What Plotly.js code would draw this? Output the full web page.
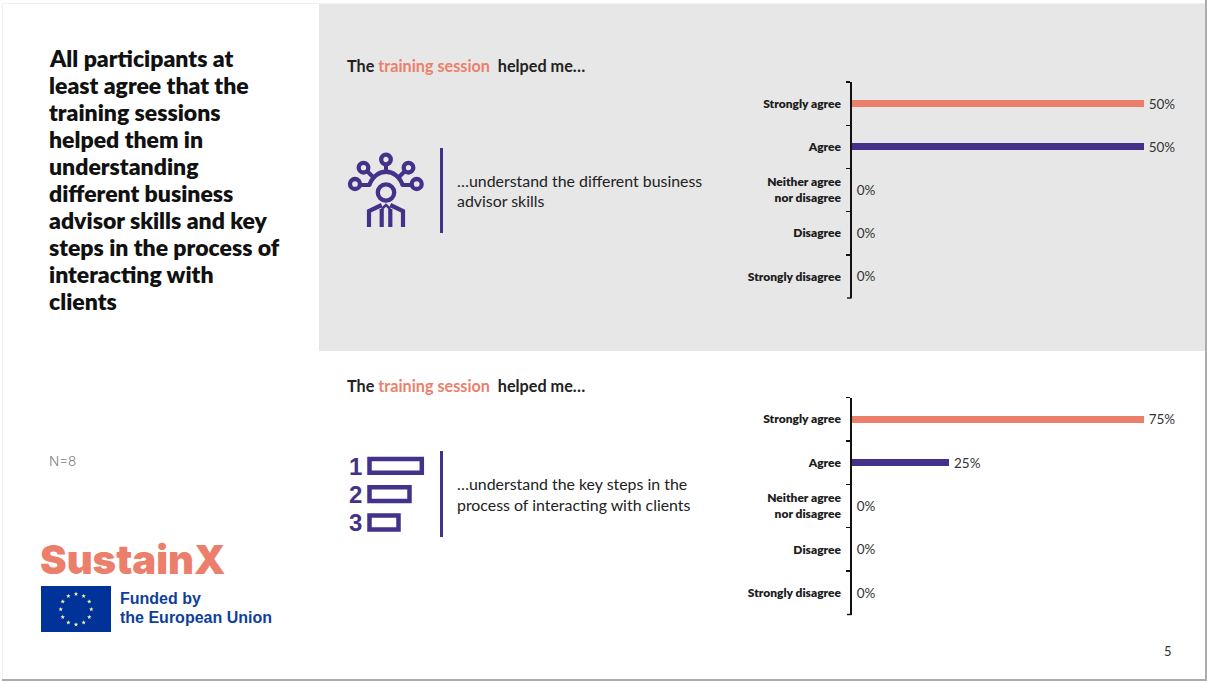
<!DOCTYPE html>
<html>
<head>
<meta charset="utf-8">
<script src="https://cdn.plot.ly/plotly-3.0.1.min.js"></script>
<style>html,body{margin:0;padding:0;background:#fff}#chart{width:1207px;height:681px}</style>
</head>
<body>
<div id="chart"></div>
<script>
// Survey answers
const categories = ['Strongly agree', 'Agree', 'Neither agree<br>nor disagree', 'Disagree', 'Strongly disagree'];
const skillsValues = [50, 50, 0, 0, 0];
const stepsValues = [75, 25, 0, 0, 0];

// Wording
const headlineLines = ['All participants at', 'least agree that the', 'training sessions', 'helped them in', 'understanding', 'different business', 'advisor skills and key', 'steps in the process of', 'interacting with', 'clients'];
const skillsCaption = ['…understand the different business', 'advisor skills'];
const stepsCaption = ['…understand the key steps in the', 'process of interacting with clients'];
const lead = 'The <span style="color:#EC7F6B">training session</span>  helped me…';

const CORAL = '#EC7F6B', PURPLE = '#44318A', INK = '#1d1d1d', FONT = 'Lato, sans-serif';
const W = 1207, H = 681;
const barColors = [CORAL, PURPLE, PURPLE, PURPLE, PURPLE];

const px = (a, b, size) => [a / size, b / size];
const yDomain = (top, bottom) => [1 - bottom / H, 1 - top / H];

function barTrace(values, xa, ya) {
  return {
    type: 'bar', orientation: 'h', x: values, y: categories, xaxis: xa, yaxis: ya,
    width: 0.17,
    marker: { color: barColors, line: { width: 0 } },
    // A thin space keeps the figures clear of the bar ends
    text: values.map(v => '\u2009' + v + '%'), textposition: 'outside', cliponaxis: false,
    constraintext: 'none', textangle: 0,
    textfont: { family: FONT, size: 13.5, color: '#333333' },
    hoverinfo: 'skip', showlegend: false
  };
}

function valueAxis(domain, max, anchor) {
  return { domain, range: [0, max], anchor, showgrid: false, zeroline: false, showline: false, showticklabels: false, ticks: '', fixedrange: true };
}
function categoryAxis(domain, anchor) {
  return {
    domain, anchor, type: 'category', autorange: 'reversed', tickson: 'boundaries',
    ticks: 'outside', ticklen: 4, tickwidth: 1.4, tickcolor: '#111',
    showline: true, linecolor: '#111', linewidth: 1.6, showgrid: false, zeroline: false,
    ticklabelstandoff: 7,
    tickfont: { family: FONT, size: 12, color: INK, weight: 800 }, fixedrange: true
  };
}

// Text placed in page pixels through a hidden full-page axis pair
function label(x, y, text, opts) {
  return Object.assign({
    xref: 'x', yref: 'y', x, y, text, showarrow: false, xanchor: 'left', yanchor: 'middle', align: 'left',
    font: Object.assign({ family: FONT, size: 15, color: INK }, opts && opts.font)
  }, opts && opts.extra);
}

const annotations = [];
headlineLines.forEach((t, i) => annotations.push(label(46.5, 57.5 + i * 27.1, t, { font: { size: 23, weight: 800, color: '#111' } })));
[65, 385].forEach(y => annotations.push(label(345, y, lead, { font: { size: 16.2, weight: 700, color: '#222' } })));
skillsCaption.forEach((t, i) => annotations.push(label(455, 180 + i * 20.5, t, { font: { size: 15.9, color: '#222' } })));
stepsCaption.forEach((t, i) => annotations.push(label(455, 483.5 + i * 20.7, t, { font: { size: 15.9, color: '#222' } })));
annotations.push(label(47, 461, 'N=8', { font: { family: 'Inter, sans-serif', size: 13.5, color: '#7f7f7f', weight: 300 } }));
annotations.push(label(37.5, 559, 'SustainX', { font: { family: 'Inter, sans-serif', size: 40, color: CORAL, weight: 900 } }));
annotations.push(label(118, 598, 'Funded by', { font: { family: 'Liberation Sans, sans-serif', size: 16, color: '#0E3F9B', weight: 700 } }));
annotations.push(label(118, 617, 'the European Union', { font: { family: 'Liberation Sans, sans-serif', size: 16, color: '#0E3F9B', weight: 700 } }));
annotations.push(label(1162, 651, '5', { font: { size: 13, color: '#333' } }));
[[466, '1'], [494, '2'], [522, '3']].forEach(([y, t]) =>
  annotations.push(label(347, y, t, { font: { family: 'Liberation Sans, sans-serif', size: 24, color: PURPLE, weight: 700 } })));

// Decoration helpers
const page = { xref: 'x', yref: 'y' };
const rect = (x0, y0, x1, y1, fill, layer) => Object.assign({ type: 'rect', x0, y0, x1, y1, fillcolor: fill, line: { width: 0 }, layer: layer || 'below' }, page);
const box = (x0, y0, x1, y1, w) => Object.assign({ type: 'rect', x0, y0, x1, y1, fillcolor: 'rgba(0,0,0,0)', line: { color: PURPLE, width: w } }, page);
const ring = (cx, cy, r, w) => Object.assign({ type: 'circle', x0: cx - r, y0: cy - r, x1: cx + r, y1: cy + r, fillcolor: 'rgba(0,0,0,0)', line: { color: PURPLE, width: w } }, page);
const stroke = (path, w) => Object.assign({ type: 'path', path, line: { color: PURPLE, width: w }, fillcolor: 'rgba(0,0,0,0)' }, page);

// Twelve-star circle of the flag
function starPath(cx, cy, r) {
  let d = '';
  for (let i = 0; i < 10; i++) {
    const a = -Math.PI / 2 + i * Math.PI / 5, q = i % 2 ? r * 0.4 : r;
    d += (i ? 'L' : 'M') + (cx + q * Math.cos(a)).toFixed(2) + ',' + (cy + q * Math.sin(a)).toFixed(2);
  }
  return d + 'Z';
}
let stars = '';
for (let k = 0; k < 12; k++) {
  const a = k * Math.PI / 6;
  stars += starPath(76 + 15.3 * Math.cos(a), 609.3 + 15.3 * Math.sin(a), 2.4);
}

const shapes = [
  // Slide frame and grey panel
  rect(2, 3, 3, 679, '#f1f1f1'),
  rect(2, 3, 1205, 4, '#f1f1f1'),
  rect(319, 4, 1205, 351, '#E7E7E7'),
  rect(1205, 0, W, H, '#ababab'),
  rect(2, 679, W, H, '#ababab'),
  // Closing ticks at the foot of each category axis
  rect(847, 297.3, 851.5, 298.7, '#111', 'above'),
  rect(847, 613.8, 851.5, 615.2, '#111', 'above'),
  // Dividers beside the icons
  rect(440, 148, 443, 233, PURPLE, 'above'),
  rect(440, 451, 443, 537, PURPLE, 'above'),
  // Advisor skills icon: network around a person
  ring(386, 192.5, 8.2, 4.3),
  stroke('M 369,186 C 375,167 397,167 403,186', 4.3),
  ring(386, 159.5, 4.8, 4.3),
  ring(363.5, 167.7, 4.8, 4.3),
  ring(408.5, 167.7, 4.8, 4.3),
  ring(355, 184, 5, 4.3),
  ring(416.7, 184, 5, 4.3),
  stroke('M 386,164 L 386,172', 4),
  stroke('M 367,171 L 373,177', 4),
  stroke('M 405,171 L 399,177', 4),
  stroke('M 360,185 L 370,185', 4),
  stroke('M 412,185 L 402,185', 4),
  stroke('M 369,227 L 369,211 L 381.7,205', 4.2),
  stroke('M 403,227 L 403,211 L 390.3,205', 4.2),
  stroke('M 381.7,227 L 381.7,209', 4.2),
  stroke('M 390.3,227 L 390.3,209', 4.2),
  stroke('M 381.7,209 L 386,205 L 390.3,209', 2.5),
  // Steps icon: three shrinking boxes
  box(369.5, 459, 421.8, 472.8, 4.5),
  box(369.5, 487.3, 409.5, 501, 4.5),
  box(369.5, 515.5, 398.5, 529.5, 4.5),
  // Flag
  rect(41, 586, 111, 632, '#00339A', 'above'),
  Object.assign({ type: 'path', path: stars, fillcolor: '#FFF3A8', line: { width: 0 } }, page)
];

const layout = {
  width: W, height: H, margin: { l: 0, r: 0, t: 0, b: 0 }, paper_bgcolor: '#fff', plot_bgcolor: 'rgba(0,0,0,0)',
  bargap: 0, showlegend: false, font: { family: FONT },
  // Full-page pixel axes come first so their shapes stay beneath the bars
  xaxis: { domain: [0, 1], range: [0, W], anchor: 'y', visible: false, fixedrange: true },
  yaxis: { domain: [0, 1], range: [H, 0], anchor: 'x', visible: false, fixedrange: true },
  xaxis2: valueAxis(px(852, 1144, W), 50, 'y2'),
  yaxis2: categoryAxis(yDomain(82, 298), 'x2'),
  xaxis3: valueAxis(px(852, 1144, W), 75, 'y3'),
  yaxis3: categoryAxis(yDomain(397.5, 614.5), 'x3'),
  shapes, annotations
};

Plotly.newPlot('chart', [barTrace(skillsValues, 'x2', 'y2'), barTrace(stepsValues, 'x3', 'y3')], layout, { displayModeBar: false, staticPlot: true });
</script>
</body>
</html>
